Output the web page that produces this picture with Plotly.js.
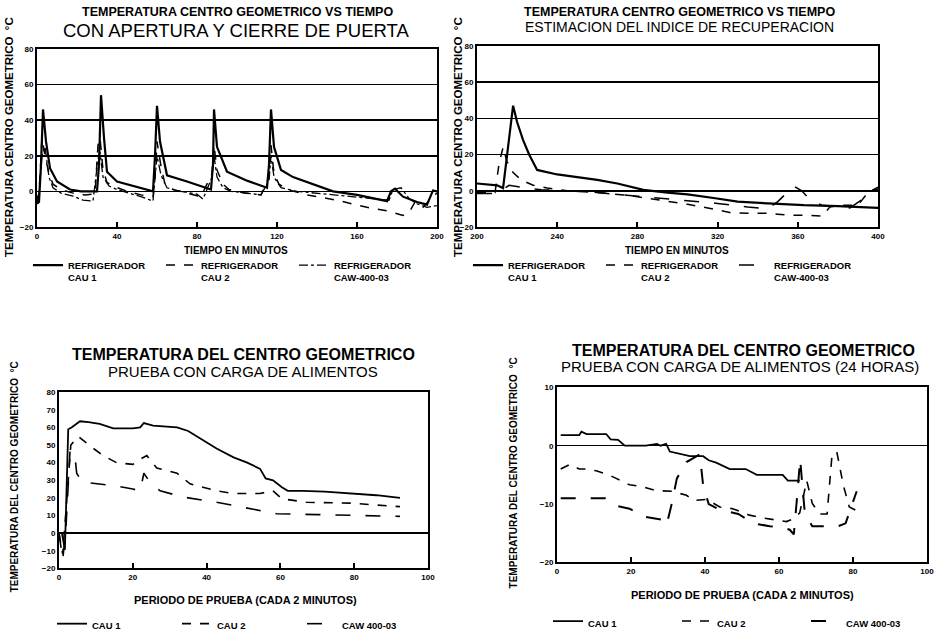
<!DOCTYPE html>
<html><head><meta charset="utf-8">
<script src="https://cdn.plot.ly/plotly-3.0.1.min.js"></script>
<style>html,body{margin:0;padding:0;background:#fff}</style>
</head><body><div id="chart" style="width:946px;height:640px"></div>
<script>
// ---------- DATA ----------
// Top-left: door opening / closing (minutes 0-200)
const tlCau1X = [0, 1, 2, 3, 4.5, 6.5, 10, 16.5, 22, 27, 30, 31, 32, 33.5, 35, 40, 51.5, 56, 58, 59, 60, 61.5, 65, 75, 85, 87, 88, 88.5, 90, 95, 105, 113, 115, 116, 117, 118.5, 122, 128, 140, 148, 160, 172, 175, 177, 179, 183, 190, 195, 198, 200];
const tlCau1Y = [-7, -6, 15, 46, 28, 13, 5.5, 1, 0, 0, 0, 15, 54, 30, 11, 5.5, 2, 1, 0, 20, 48, 28, 9, 5.5, 2, 1, 15, 46, 25, 11, 6, 3, 2, 15, 46, 25, 12, 8, 3, 0, -2, -4.5, -5.5, 0, 1.5, -3, -6, -7.5, 0.5, 0];
const tlCau2X = [0, 1, 2.5, 4, 6, 8, 12, 18, 24, 29, 30.5, 31.5, 33, 35, 38, 45, 52, 58, 59, 60, 62, 64, 68, 75, 82, 87.5, 88.5, 90, 93, 96, 104, 112, 116, 117, 118.5, 121, 125, 135, 150, 165, 175, 183, 186, 189, 193, 197, 200];
const tlCau2Y = [-6, -2, 30, 20, 10, 4, 1, -1, -2, -1.5, 26, 30, 12, 5, 3, 0, -2, -3, 8, 28, 14, 4, 1, -1, -3, 10, 26, 12, 4, 1, -1, -2, 8, 26, 10, 4, 1, -2, -5, -9, -11, -13.5, -12, -6, -9, -4, -1];
const tlCawX = [0, 1, 2.5, 4, 6, 8, 12, 18, 23, 28, 30.5, 31.5, 33, 36, 40, 45, 52, 58, 59, 60, 62, 65, 72, 80, 83, 87.5, 88.5, 90, 93, 97, 105, 112, 116, 117, 118.5, 122, 130, 140, 150, 160, 170, 176, 178, 182, 186, 190, 195, 200];
const tlCawY = [-4, -1, 20, 25, 8, 2, -1, -2.7, -5, -5.5, 18, 22, 8, 3, 1, -0.5, -3, -5.5, 6, 20, 9, 2, 0, -1.6, -4.4, 8, 20, 8, 2, 0, -1, -2, 6, 20, 8, 2, 0, -1, -2, -3, -4, -5, 1, 2, -4, -7, -9, -8];

// Top-right: recovery index (minutes 200-400)
const trCau1X = [200, 205, 210, 213, 215, 217, 218, 220, 223, 226, 230, 240, 250, 260, 270, 283, 295, 305, 318, 330, 345, 363, 380, 400];
const trCau1Y = [4, 3.5, 3, 1.5, 20, 40, 47, 38, 28, 20, 11.5, 9, 7.5, 6, 4, 0.5, -1, -2, -4, -6, -7, -8, -8.5, -9.5];
const trCau2X = [200, 206, 209, 211, 213, 215, 218, 222, 228, 235, 245, 260, 275, 290, 305, 320, 326, 335, 345, 350, 355, 365, 372, 376, 382, 390, 395, 400];
const trCau2Y = [-1, -1, -1, 15, 24, 16, 10, 6, 3, 1.5, 0, -1, -2.5, -5, -7.5, -10.5, -12, -12.5, -12.5, -13, -13.5, -13.5, -14, -9, -8, -8, -1, 2];
const trCawX = [200, 208, 212, 216, 222, 232, 245, 260, 280, 300, 320, 335, 345, 350, 355, 358, 362, 366, 372, 380, 386, 392, 396, 400];
const trCawY = [-1.5, -1.5, 0, 3, 2, 0.5, 0, -1, -3, -5, -7, -9, -10, -6, -1, 2.5, 0, -5, -8, -9, -9.5, -5, 0, 1];

// Bottom-left: food load test (period every 2 minutes)
const blCau1X = [0, 0.8, 1.6, 2.5, 3.4, 5.7, 8, 11, 14.7, 20, 22, 23, 25.5, 32, 35, 38, 42.7, 47.3, 51, 54.5, 56, 58, 60.4, 62, 66, 72, 79, 86, 92.4];
const blCau1Y = [0, 0, -9.5, 59, 60, 63.5, 63, 62, 59.5, 59.5, 60, 62.5, 61, 60, 58, 54, 48, 43, 40, 36.5, 31, 30, 26, 24, 24, 23.5, 22.5, 21.5, 20];
const blCau2X = [0, 1, 1.8, 3.2, 5.2, 8.4, 12, 15.6, 20, 22, 23.8, 26.5, 32, 35.5, 42.7, 47, 54.5, 58, 60.4, 67, 79, 92.4];
const blCau2Y = [0, -12, 10, 50, 55, 49.5, 44, 40, 39, 42, 44, 37, 34, 28, 24, 22.5, 22.5, 24, 19.5, 17.5, 17, 15];
const blCawX = [0, 1, 1.8, 3, 4.3, 4.8, 6.2, 10, 14.7, 20, 22, 23, 24.6, 27.4, 33.6, 42.7, 54.5, 59, 70, 80, 92.4];
const blCawY = [0, -15, 0, 47, 44, 34, 29, 28, 27, 25, 24, 34, 29, 24, 20.5, 17.5, 13, 11, 10.5, 10, 9.5];

// Bottom-right: food load test (24 hours)
const brCau1X = [1, 6, 6.6, 8, 13.3, 14.5, 16.5, 18.3, 24, 27, 28, 29.5, 30.5, 35.9, 39.5, 41, 43, 46.7, 51, 54, 61, 62.4, 65.6];
const brCau1Y = [1.8, 1.8, 2.4, 2, 2, 1.1, 1, 0, 0, 0.3, 0, 0.3, -1, -1.8, -1.8, -2.5, -2.9, -4, -4, -5, -5, -6, -6];
const brCau2X = [1, 3.5, 6, 8, 10.6, 14, 16, 19.6, 23, 26.8, 31, 35, 37, 40.5, 44, 47.5, 52, 55.7, 62, 64, 65.6, 67.5, 69, 71, 73, 74.3, 75.6, 77.4, 79, 82.7];
const brCau2Y = [-4, -3.2, -4, -4, -4.3, -5, -5.6, -6.7, -7, -7.7, -7.8, -8.5, -9.4, -9.2, -10.5, -10.8, -11.9, -12.4, -13, -12.5, -11.5, -6, -9.9, -11.7, -11.7, -1.8, -1, -6.8, -10.5, -11.7];
const brCawX = [1, 6, 11, 13, 16, 19.6, 24, 28.6, 29.6, 31, 32.4, 35, 38.6, 39.5, 41, 44, 49, 53, 57.5, 61, 62.9, 64, 65, 65.7, 67, 69, 73, 76, 78, 81];
const brCawY = [-9, -9, -9, -9, -10.3, -10.8, -12.2, -12.7, -13.6, -10, -5.6, -2.8, -1.5, -6.8, -10, -11, -11.7, -13.3, -13.8, -14, -14.4, -15.2, -8, -2.3, -11.7, -13.8, -13.8, -13.8, -13.3, -7.8];

const topNames = ['REFRIGERADOR<br>CAU 1', 'REFRIGERADOR<br>CAU 2', 'REFRIGERADOR<br>CAW-400-03'];
const botNames = ['CAU 1', 'CAU 2', 'CAW 400-03'];
const topTicksL = [0, 40, 80, 120, 160, 200];
const topTicksR = [200, 240, 280, 320, 360, 400];

// ---------- BUILD ----------
const FONT = 'Liberation Sans, Arial, sans-serif';
function tr(x, y, name, dash, w, xa, ya, leg) {
  return {x: x, y: y, name: name, type: 'scatter', mode: 'lines', xaxis: xa, yaxis: ya, legend: leg,
    line: {color: '#000', width: w, dash: dash}};
}
const data = [
  tr(tlCau1X, tlCau1Y, topNames[0], 'solid', 2.2, 'x', 'y', 'legend'),
  tr(tlCau2X, tlCau2Y, topNames[1], 'dash', 1.5, 'x', 'y', 'legend'),
  tr(tlCawX, tlCawY, topNames[2], 'dashdot', 1.3, 'x', 'y', 'legend'),
  tr(trCau1X, trCau1Y, topNames[0], 'solid', 2.2, 'x2', 'y2', 'legend2'),
  tr(trCau2X, trCau2Y, topNames[1], 'dash', 1.5, 'x2', 'y2', 'legend2'),
  tr(trCawX, trCawY, topNames[2], 'longdash', 1.5, 'x2', 'y2', 'legend2'),
  tr(blCau1X, blCau1Y, botNames[0], 'solid', 1.8, 'x3', 'y3', 'legend3'),
  tr(blCau2X, blCau2Y, botNames[1], 'dash', 1.6, 'x3', 'y3', 'legend3'),
  tr(blCawX, blCawY, botNames[2], 'longdash', 1.6, 'x3', 'y3', 'legend3'),
  tr(brCau1X, brCau1Y, botNames[0], 'solid', 1.8, 'x4', 'y4', 'legend4'),
  tr(brCau2X, brCau2Y, botNames[1], 'dash', 1.6, 'x4', 'y4', 'legend4'),
  tr(brCawX, brCawY, botNames[2], 'longdash', 2, 'x4', 'y4', 'legend4')
];

const W = 946, H = 640;
const fx = p => p / W, fy = p => 1 - p / H;
const tickFont = {family: FONT, size: 8, color: '#000', weight: 'bold'};
function xax(dom, range, vals, anchor) {
  return {domain: [fx(dom[0]), fx(dom[1])], range: range, tickvals: vals, anchor: anchor,
    ticks: 'inside', ticklen: 5, tickwidth: 2, tickcolor: '#000', showline: true, mirror: true,
    linecolor: '#000', linewidth: 2, showgrid: false, zeroline: false, tickfont: tickFont, fixedrange: true};
}
function yax(dom, range, dtick, anchor, grid) {
  return {domain: [fy(dom[1]), fy(dom[0])], range: range, dtick: dtick, anchor: anchor,
    ticks: '', showline: true, mirror: true, linecolor: '#000', linewidth: 2,
    showgrid: grid, gridcolor: '#000', gridwidth: 1.6,
    zeroline: !grid, zerolinecolor: '#000', zerolinewidth: 1.6,
    tickfont: tickFont, fixedrange: true};
}
function ann(x, y, text, size, angle) {
  return {xref: 'paper', yref: 'paper', x: fx(x), y: fy(y), text: text, showarrow: false,
    xanchor: 'center', yanchor: 'middle', textangle: angle || 0,
    font: {family: FONT, size: size, color: '#000'}};
}
function leg(x, y, ew) {
  return {orientation: 'h', x: fx(x), y: fy(y), xanchor: 'left', yanchor: 'top',
    entrywidth: ew, entrywidthmode: 'pixels', valign: 'top', bgcolor: 'rgba(0,0,0,0)',
    font: {family: FONT, size: 9.5, color: '#000', weight: 'bold'}, itemwidth: 30, tracegroupgap: 0};
}

const layout = {
  width: W, height: H, margin: {l: 0, r: 0, t: 0, b: 0},
  paper_bgcolor: '#fff', plot_bgcolor: '#fff', showlegend: true,
  xaxis: xax([37, 437], [0, 200], topTicksL, 'y'),
  yaxis: yax([50, 232], [-20, 80], 20, 'x', true),
  xaxis2: xax([477, 878], [200, 400], topTicksR, 'y2'),
  yaxis2: yax([47, 232], [-20, 80], 20, 'x2', true),
  xaxis3: xax([59, 428], [0, 100], [0, 20, 40, 60, 80, 100], 'y3'),
  yaxis3: yax([401, 581], [-20, 80], 10, 'x3', false),
  xaxis4: xax([557, 927], [0, 100], [0, 20, 40, 60, 80, 100], 'y4'),
  yaxis4: yax([396, 575], [-20, 10], 10, 'x4', false),
  legend: leg(28, 258, 88),
  legend2: leg(468, 258, 88),
  legend3: leg(52, 625, 80),
  legend4: leg(548, 622, 84),
  annotations: [
    ann(237, 12, '<b>TEMPERATURA CENTRO GEOMETRICO VS TIEMPO</b>', 12.5),
    ann(236, 31, 'CON APERTURA Y CIERRE DE PUERTA', 18.5),
    ann(679, 12, '<b>TEMPERATURA CENTRO GEOMETRICO VS TIEMPO</b>', 12.5),
    ann(679, 28, 'ESTIMACION DEL INDICE DE RECUPERACION', 14),
    ann(243, 362, '<b>TEMPERATURA DEL CENTRO GEOMETRICO</b>', 16),
    ann(243, 380, 'PRUEBA CON CARGA DE ALIMENTOS', 15),
    ann(743, 358, '<b>TEMPERATURA DEL CENTRO GEOMETRICO</b>', 16),
    ann(740, 375, 'PRUEBA CON CARGA DE ALIMENTOS (24 HORAS)', 15),
    ann(236, 256, '<b>TIEMPO EN MINUTOS</b>', 10),
    ann(677, 256, '<b>TIEMPO EN MINUTOS</b>', 10),
    ann(245, 613, '<b>PERIODO DE PRUEBA (CADA 2 MINUTOS)</b>', 11),
    ann(742, 608, '<b>PERIODO DE PRUEBA (CADA 2 MINUTOS)</b>', 11),
    ann(9, 140, '<b>TEMPERATURA CENTRO GEOMETRICO  °C</b>', 11.5, -90),
    ann(458, 140, '<b>TEMPERATURA CENTRO GEOMETRICO  °C</b>', 11.5, -90),
    ann(14, 488, '<b>TEMPERATURA DEL CENTRO GEOMETRICO  °C</b>', 10, -90),
    ann(513, 484, '<b>TEMPERATURA DEL CENTRO GEOMETRICO  °C</b>', 10, -90)
  ]
};

Plotly.newPlot('chart', data, layout, {displayModeBar: false, staticPlot: true});
</script></body></html>
